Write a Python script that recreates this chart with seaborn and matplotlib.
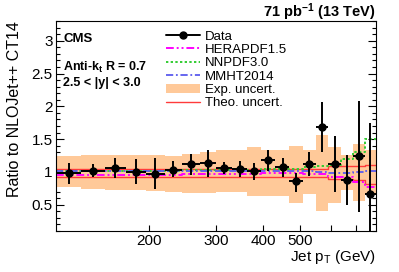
import numpy as np
import matplotlib
matplotlib.use("Agg")
import matplotlib.pyplot as plt
import seaborn as sns
from matplotlib.lines import Line2D
from matplotlib.patches import Patch
from matplotlib.ticker import FixedLocator, NullLocator, FuncFormatter, MultipleLocator

# ---------------- data ----------------
bin_edges = [114, 133, 153, 174, 196, 220, 245, 272, 300, 330, 362, 395, 430,
             468, 507, 548, 592, 638, 686, 737, 790]
pt_center = [123, 143, 163, 185, 208, 232, 258, 286, 315, 346, 378, 412, 449,
             487, 527, 570, 615, 662, 711, 763]
data_ratio = [0.98, 1.02, 1.065, 1.005, 0.97, 1.035, 1.12, 1.14, 1.066, 1.045,
              1.01, 1.18, 1.07, 0.86, 1.12, 1.68, 1.12, 0.88, 1.24, 0.67]
data_err_up = [0.16, 0.10, 0.155, 0.195, 0.24, 0.125, 0.16, 0.20, 0.085, 0.115,
               0.12, 0.16, 0.14, 0.13, 0.18, 0.38, 0.425, 0.385, 0.84, 1.07]
data_err_dn = [0.16, 0.10, 0.155, 0.185, 0.23, 0.115, 0.17, 0.21, 0.095, 0.125,
               0.13, 0.16, 0.14, 0.16, 0.18, 0.38, 0.43, 0.38, 0.85, 1.07]
exp_up = [1.25, 1.265, 1.265, 1.26, 1.265, 1.25, 1.275, 1.31, 1.33, 1.33,
          1.38, 1.34, 1.34, 1.40, 1.33, 1.57, 1.38, 1.26, 1.42, 1.33]
exp_dn = [0.765, 0.745, 0.73, 0.73, 0.71, 0.69, 0.68, 0.675, 0.70, 0.70,
          0.63, 0.64, 0.64, 0.53, 0.67, 0.40, 0.52, 0.72, 0.55, 0.65]
theo_up = [1.05] * 16 + [1.085, 1.085, 1.09, 1.11]
theo_dn = [0.93] * 16 + [0.89, 0.89, 0.88, 0.82]
herapdf = [0.95, 0.95, 0.955, 0.955, 0.96, 0.96, 0.965, 0.965, 0.97, 0.975,
           0.975, 0.98, 0.98, 0.98, 0.975, 0.97, 0.93, 0.925, 0.84, 0.77]
nnpdf = [1.01, 1.01, 1.015, 1.015, 1.02, 1.02, 1.025, 1.025, 1.03, 1.035,
         1.035, 1.04, 1.04, 1.05, 1.07, 1.085, 1.11, 1.20, 1.31, 1.50]
mmht = [1.015] * 14 + [1.01, 1.0, 0.99, 0.99, 1.0, 1.02]

legend_labels = ["Data", "HERAPDF1.5", "NNPDF3.0", "MMHT2014",
                 "Exp. uncert.", "Theo. uncert."]
xtick_vals = [200, 300, 400, 500, 600, 700]
xtick_labelled = [200, 300, 400, 500]

# ---------------- style ----------------
sns.set_theme(style="ticks", rc={
    "axes.edgecolor": "black", "text.color": "black", "axes.labelcolor": "black",
    "xtick.color": "black", "ytick.color": "black", "axes.linewidth": 0.8,
})
plt.rcParams["font.family"] = ["Liberation Sans", "DejaVu Sans"]
plt.rcParams["mathtext.fontset"] = "custom"
plt.rcParams["mathtext.rm"] = "Liberation Sans"
plt.rcParams["mathtext.it"] = "Liberation Sans:italic"
plt.rcParams["mathtext.bf"] = "Liberation Sans:bold"

BAND = "#ffc999"
MAG = "#ff00ff"
GRN = "#33cc33"
BLU = "#5a5aee"
RED = "#ff3b3b"
ls_hera = (0, (4, 1.5, 1, 1.5, 1, 1.5))
ls_nn = (0, (1.2, 1.2))
ls_mmht = (0, (4, 1.5, 1, 1.5))

fig = plt.figure(figsize=(3.99, 2.72), dpi=100)
ax = fig.add_axes([56 / 399, 41 / 272, 320 / 399, 210 / 272])

edges = np.array(bin_edges, dtype=float)


def step(v):
    v = np.asarray(v, dtype=float)
    return np.append(v, v[-1])


ax.fill_between(edges, step(exp_dn), step(exp_up), step="post",
                color=BAND, lw=0, zorder=1)

for vals, col, ls, lw in [(theo_up, RED, "-", 1.0), (theo_dn, RED, "-", 1.0),
                          (herapdf, MAG, ls_hera, 1.4), (nnpdf, GRN, ls_nn, 1.4),
                          (mmht, BLU, ls_mmht, 1.3)]:
    sns.lineplot(x=edges, y=step(vals), ax=ax, color=col, linestyle=ls, lw=lw,
                 drawstyle="steps-post", estimator=None, sort=False,
                 legend=False, zorder=2)

pc = np.array(pt_center, dtype=float)
xerr = [pc - edges[:-1], edges[1:] - pc]
ax.errorbar(pc, data_ratio, yerr=[data_err_dn, data_err_up], xerr=xerr,
            fmt="o", color="black", ms=5, elinewidth=1.4, capsize=0, zorder=5)

ax.set_xscale("log")
ax.set_xlim(114, 790)
ax.set_ylim(0.1, 3.3)

ax.xaxis.set_major_locator(FixedLocator(xtick_vals))
ax.xaxis.set_minor_locator(NullLocator())
ax.xaxis.set_major_formatter(FuncFormatter(
    lambda v, p: f"{int(round(v))}" if int(round(v)) in xtick_labelled else ""))
ax.yaxis.set_major_locator(MultipleLocator(0.5))
ax.yaxis.set_minor_locator(MultipleLocator(0.1))
ax.yaxis.set_major_formatter(FuncFormatter(lambda v, p: f"{v:g}"))

ax.tick_params(axis="x", which="major", direction="in", length=4, width=0.8,
               top=False, bottom=True, pad=2, labelsize=11)
ax.tick_params(axis="y", which="major", direction="in", length=6, width=0.8,
               left=True, right=True, pad=2.5, labelsize=11)
ax.tick_params(axis="y", which="minor", direction="in", length=3, width=0.8,
               left=True, right=True)

ax.set_ylabel("Ratio to NLOJet++ CT14", fontsize=11.5, loc="top")
ax.yaxis.set_label_coords(-0.106, 1.0)
ax.set_xlabel(r"Jet p$_\mathrm{T}$ (GeV)", fontsize=11, loc="right")
ax.xaxis.set_label_coords(1.0, -0.08)

ax.text(0.022, 0.914, "CMS", transform=ax.transAxes, fontsize=9.5,
        fontweight="bold", va="center", ha="left")
ax.text(0.022, 0.781, r"Anti-k$_\mathbf{t}$ R = 0.7", transform=ax.transAxes,
        fontsize=9, fontweight="bold", va="center", ha="left")
ax.text(0.022, 0.705, "2.5 < |y| < 3.0", transform=ax.transAxes, fontsize=9,
        fontweight="bold", va="center", ha="left")
ax.text(1.0, 1.043, r"71 pb$^\mathbf{-1}$ (13 TeV)", transform=ax.transAxes,
        fontsize=10.5, fontweight="bold", va="center", ha="right")

handles = [
    Line2D([], [], color="black", marker="o", ms=5, lw=1.4),
    Line2D([], [], color=MAG, lw=1.4, linestyle=ls_hera),
    Line2D([], [], color=GRN, lw=1.4, linestyle=ls_nn),
    Line2D([], [], color=BLU, lw=1.3, linestyle=ls_mmht),
    Patch(facecolor=BAND, edgecolor="none"),
    Line2D([], [], color=RED, lw=1.0),
]
ax.legend(handles, legend_labels, loc="upper left", bbox_to_anchor=(0.344, 0.955),
          frameon=False, fontsize=9.5, handlelength=2.6, handletextpad=0.35,
          labelspacing=0.08, borderpad=0, borderaxespad=0)

fig.savefig("out.png", dpi=100)
